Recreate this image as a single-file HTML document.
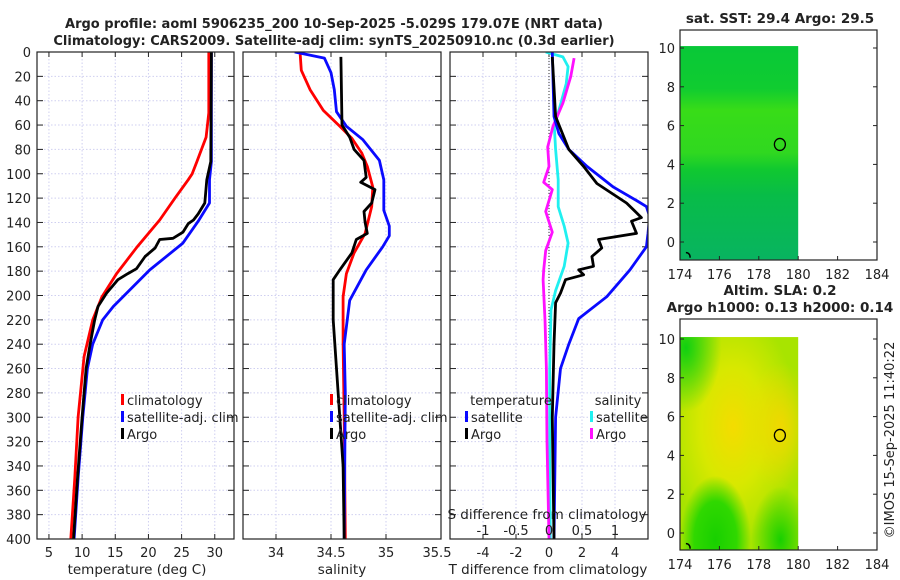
<!DOCTYPE html>
<html><head><meta charset="utf-8"><style>
body{margin:0;background:#fff}
svg{display:block;font-family:"DejaVu Sans","Liberation Sans",sans-serif}
</style></head><body>
<svg id="chart" width="900" height="580" viewBox="0 0 900 580">
<defs>
<clipPath id="c1"><rect x="37" y="52" width="197" height="487"/></clipPath>
<clipPath id="c2"><rect x="243" y="52" width="198" height="487"/></clipPath>
<clipPath id="c3"><rect x="450" y="52" width="198" height="487"/></clipPath>
<linearGradient id="sstg" x1="0" y1="0" x2="0" y2="1">
<stop offset="0" stop-color="#08c838"/><stop offset="0.2" stop-color="#10cc30"/>
<stop offset="0.3" stop-color="#38dc18"/><stop offset="0.5" stop-color="#30d820"/>
<stop offset="0.58" stop-color="#10c830"/><stop offset="0.7" stop-color="#08bc48"/>
<stop offset="1" stop-color="#08b460"/></linearGradient>
<radialGradient id="slay1" cx="0.45" cy="0.42" r="0.55"><stop offset="0" stop-color="#f4dc00"/><stop offset="0.5" stop-color="#d8e800"/><stop offset="1" stop-color="#d8e800" stop-opacity="0"/></radialGradient>
<radialGradient id="slay2" cx="0.85" cy="0.42" r="0.3"><stop offset="0" stop-color="#f0d800"/><stop offset="1" stop-color="#f0d800" stop-opacity="0"/></radialGradient>
<radialGradient id="slag1" cx="0.3" cy="0.95" r="0.3"><stop offset="0" stop-color="#18d000"/><stop offset="0.6" stop-color="#30d800"/><stop offset="1" stop-color="#30d800" stop-opacity="0"/></radialGradient>
<radialGradient id="slag2" cx="0.85" cy="0.95" r="0.25"><stop offset="0" stop-color="#18d000"/><stop offset="1" stop-color="#18d000" stop-opacity="0"/></radialGradient>
<radialGradient id="slag3" cx="0.05" cy="0.05" r="0.3"><stop offset="0" stop-color="#10d010"/><stop offset="1" stop-color="#10d010" stop-opacity="0"/></radialGradient>
</defs>
<g id="root"></g>
</svg>
<script>
// ---- data ----
const climTDepth=[0,50,70,80,90,100,105,120,138,160,182,201,220,250,300,350,400];
const climT=[29.1,29.1,28.7,28.0,27.3,26.6,26.0,24.0,21.7,18.3,15.2,13.0,11.6,10.3,9.4,8.9,8.3];
const satTDepth=[0,90,105,124,139,157,179,209,220,240,260,300,350,400];
const satT=[29.5,29.5,29.2,29.2,27.5,25.2,20.2,14.7,13.1,11.6,10.8,10.1,9.4,8.8];
const argoTDepth=[0,90,100,105,124,133,138,141,148,153,154,161,168,178,182,187,198,209,220,240,260,300,350,400];
const argoT=[29.5,29.4,29.0,28.8,28.5,27.5,26.8,26.0,25.2,23.7,21.7,21.0,19.5,18.2,16.9,15.4,13.7,12.4,11.9,11.2,10.6,10.0,9.3,8.7];
const climSDepth=[2,15,31,48,61,71,83,94,111,127,149,165,182,201,240,300,400];
const climS=[34.22,34.23,34.31,34.43,34.58,34.69,34.78,34.83,34.88,34.87,34.81,34.71,34.64,34.61,34.61,34.62,34.63];
const satSDepth=[0,5,17,31,49,61,72,89,105,130,143,151,160,179,204,240,280,400];
const satS=[34.17,34.44,34.50,34.53,34.55,34.64,34.79,34.94,34.98,34.98,35.03,35.03,34.97,34.82,34.67,34.62,34.63,34.62];
const argoSDepth=[4,60,70,80,89,103,107,113,124,131,140,149,154,165,179,187,201,220,260,300,340,400];
const argoS=[34.59,34.60,34.67,34.71,34.80,34.82,34.77,34.90,34.87,34.80,34.81,34.83,34.73,34.69,34.58,34.52,34.52,34.52,34.55,34.58,34.61,34.62];
const satTdDepth=[0,53,67,80,94,111,122,127,135,149,160,179,201,219,240,260,300,400];
const satTd=[0.2,0.3,0.6,1.2,2.3,3.9,5.3,5.9,6.1,6.0,5.9,4.9,3.5,1.8,1.2,0.7,0.4,0.3];
const argoTdDepth=[4,53,80,94,108,124,132,136,139,149,154,161,168,176,179,183,187,198,206,240,300,400];
const argoTd=[0.2,0.4,1.2,2.1,2.9,4.7,5.3,5.6,5.0,5.3,3.0,3.2,2.6,2.7,1.8,2.1,1.0,0.7,0.4,0.3,0.2,0.3];
const satSdDepth=[0,4,12,26,42,61,80,105,127,143,157,176,196,212,260,330,400];
const satSd=[-0.05,0.21,0.29,0.26,0.18,0.08,0.10,0.14,0.14,0.23,0.29,0.23,0.10,0.03,0.01,0.01,0.02];
const argoSdDepth=[5,20,42,61,78,94,107,113,131,148,163,179,187,220,260,320,400];
const argoSd=[0.38,0.33,0.21,0.06,-0.02,0.0,-0.08,0.05,-0.05,0.05,-0.05,-0.08,-0.09,-0.06,-0.04,-0.03,0.0];
const depthTicks=[0,20,40,60,80,100,120,140,160,180,200,220,240,260,280,300,320,340,360,380,400];
const tTicks=[5,10,15,20,25,30];
const sTicks=[34,34.5,35,35.5];
const tdTicks=[-4,-2,0,2,4];
const sdTicks=[-1,-0.5,0,0.5,1];
const lonTicks=[174,176,178,180,182,184];
const latTicks=[0,2,4,6,8,10];
const argoLon=179.07, argoLat=5.03;

// ---- helpers ----
const NS='http://www.w3.org/2000/svg';
const root=document.getElementById('root');
function mk(tag,attrs,parent){const e=document.createElementNS(NS,tag);for(const k in attrs)e.setAttribute(k,attrs[k]);(parent||root).appendChild(e);return e;}
function txt(x,y,s,size,anchor,weight,parent){const t=mk('text',{x:x,y:y,'font-size':size,'text-anchor':anchor||'middle','font-weight':weight||'normal',fill:'#222'},parent);t.textContent=s;return t;}
const y0=52,y1=539;
const yD=d=>y0+(d/400)*(y1-y0);
const xT=v=>37+(v-3.2)/(32.9-3.2)*197;
const xS=v=>243+(v-33.7)/(35.5-33.7)*198;
const xTd=v=>450+(v+6)/12*198;
const xSd=v=>450+(v+1.5)/3*198;

function panel(x0,x1,name,xticks,xf,gridx){
  const g=mk('g',{});
  
  
  depthTicks.forEach(d=>{if(d>0&&d<400)mk('line',{x1:x0,x2:x1,y1:yD(d),y2:yD(d),stroke:'#cfcff0','stroke-width':1,'stroke-dasharray':'1.5,2'},g);});
  gridx.forEach(v=>{mk('line',{x1:xf(v),x2:xf(v),y1:y0,y2:y1,stroke:'#cfcff0','stroke-width':1,'stroke-dasharray':'1.5,2'},g);});
  depthTicks.forEach(d=>{
    mk('line',{x1:x0,x2:x0+6,y1:yD(d),y2:yD(d),stroke:'#222'},g);
    mk('line',{x1:x1-6,x2:x1,y1:yD(d),y2:yD(d),stroke:'#222'},g);
  });
  xticks.forEach(v=>{mk('line',{x1:xf(v),x2:xf(v),y1:y1,y2:y1-5,stroke:'#222'},g);mk('line',{x1:xf(v),x2:xf(v),y1:y0,y2:y0+5,stroke:'#222'},g);});
  return g;
}
function line(depths,vals,xf,color,clip,name,w){
  const pts=vals.map((v,i)=>xf(v).toFixed(1)+','+yD(depths[i]).toFixed(1)).join(' ');
  const p=mk('polyline',{points:pts,fill:'none',stroke:color,'stroke-width':w||2.8,'stroke-linejoin':'round','clip-path':'url(#'+clip+')'});
  
  
  return p;
}
function frame(x0,x1,name){const r=mk('rect',{x:x0,y:y0,width:x1-x0,height:y1-y0,fill:'none',stroke:'#222','stroke-width':1.2});}
function legendItem(x,y,color,label,name){
  const g=mk('g',{});
  
  
  mk('rect',{x:x,y:y-11,width:3,height:11,fill:color},g);
  txt(x+6,y,label,13,'start','normal',g);
}

// titles
const t1=txt(334,28,'Argo profile: aoml 5906235_200 10-Sep-2025 -5.029S 179.07E (NRT data)',13,'middle','bold');

const t2=txt(334,45,'Climatology: CARS2009. Satellite-adj clim: synTS_20250910.nc (0.3d earlier)',13,'middle','bold');


// panel 1 temperature
panel(37,234,'temperature-panel',tTicks,xT,tTicks);
line(climTDepth,climT,xT,'#ff0000','c1','climatology-temperature-line');
line(satTDepth,satT,xT,'#0a0aff','c1','satellite-temperature-line');
line(argoTDepth,argoT,xT,'#000','c1','argo-temperature-line');
frame(37,234,'temperature-axes-frame');
depthTicks.forEach(d=>{const t=txt(31,yD(d)+5,String(d),13,'end');});
tTicks.forEach(v=>{const t=txt(xT(v),557,String(v),13);});
const xl1=txt(137,574,'temperature (deg C)',13.5);

// panel 2 salinity
panel(243,441,'salinity-panel',sTicks,xS,[34,34.5,35]);
line(climSDepth,climS,xS,'#ff0000','c2','climatology-salinity-line');
line(satSDepth,satS,xS,'#0a0aff','c2','satellite-salinity-line');
line(argoSDepth,argoS,xS,'#000','c2','argo-salinity-line');
frame(243,441,'salinity-axes-frame');
sTicks.forEach(v=>{const t=txt(xS(v)-(v===35.5?4:0),557,String(v),13);});
const xl2=txt(342,574,'salinity',13.5);

// panel 3 differences
panel(450,648,'difference-panel',tdTicks,xTd,tdTicks);
const zl=mk('line',{x1:xTd(0),x2:xTd(0),y1:y0,y2:y1,stroke:'#333','stroke-width':1,'stroke-dasharray':'1,2'});

line(satSdDepth,satSd,xSd,'#20f0f0','c3','satellite-salinity-difference-line');
line(argoSdDepth,argoSd,xSd,'#ff10ff','c3','argo-salinity-difference-line');
line(satTdDepth,satTd,xTd,'#0a0aff','c3','satellite-temperature-difference-line');
line(argoTdDepth,argoTd,xTd,'#000','c3','argo-temperature-difference-line');
frame(450,648,'difference-axes-frame');
tdTicks.forEach(v=>{const t=txt(xTd(v),557,String(v),13);});
const xl3=txt(548,574,'T difference from climatology',13.5);
const sdt=txt(547,519,'S difference from climatology',13.5);
sdTicks.forEach(v=>{const t=txt(xSd(v),535,String(v),13);});

// legends
legendItem(121,405,'#ff0000','climatology','legend-climatology');
legendItem(121,422,'#0a0aff','satellite-adj. clim','legend-satellite-adj-clim');
legendItem(121,439,'#000','Argo','legend-argo');
legendItem(330,405,'#ff0000','climatology','legend-climatology-salinity');
legendItem(330,422,'#0a0aff','satellite-adj. clim','legend-satellite-adj-clim-salinity');
legendItem(330,439,'#000','Argo','legend-argo-salinity');
const lt=txt(511,405,'temperature',13);
const ls=txt(618,405,'salinity',13);
legendItem(465,422,'#0a0aff','satellite','legend-temperature-satellite');
legendItem(465,439,'#000','Argo','legend-temperature-argo');
legendItem(590,422,'#20f0f0','satellite','legend-salinity-satellite');
legendItem(590,439,'#ff10ff','Argo','legend-salinity-argo');

// maps
function map(top,bottom,y10,yz,name,fillFn,titleLines){
  const g=mk('g',{});
  
  
  const xL=v=>680+(v-174)/10*197;
  const yL=v=>yz+(v)*(y10-yz)/10;
  fillFn(g,xL(174),yL(10.1),xL(180)-xL(174),yL(-0.9)-yL(10.1));
  mk('ellipse',{cx:xL(argoLon),cy:yL(argoLat),rx:5.5,ry:6,fill:'none',stroke:'#000','stroke-width':1.3},g);
  mk('path',{d:`M${xL(174.3)} ${yL(-0.55)} a4 4 0 0 1 4 5`,fill:'none',stroke:'#000','stroke-width':1.5},g);
  mk('rect',{x:680,y:top,width:197,height:bottom-top,fill:'none',stroke:'#222','stroke-width':1.2},g);
  lonTicks.forEach(v=>{mk('line',{x1:xL(v),x2:xL(v),y1:bottom,y2:bottom-4,stroke:'#222'},g);txt(xL(v),bottom+19,String(v),13,'middle','normal',g);});
  latTicks.forEach(v=>{mk('line',{x1:680,x2:684,y1:yL(v),y2:yL(v),stroke:'#222'},g);mk('line',{x1:873,x2:877,y1:yL(v),y2:yL(v),stroke:'#222'},g);txt(675,yL(v)+5,String(v),13,'end','normal',g);});
  titleLines.forEach((s,i)=>txt(780,top-(titleLines.length-1-i)*17-7,s,13.5,'middle','bold',g));
}
map(30,260,48,242,'sst-map',(g,x,y,w,h)=>{mk('rect',{x:x,y:y,width:w,height:h,fill:'url(#sstg)'},g);},['sat. SST: 29.4 Argo: 29.5']);
map(319,550,339,533,'sla-map',(g,x,y,w,h)=>{
  mk('rect',{x:x,y:y,width:w,height:h,fill:'#a8e400'},g);
  mk('rect',{x:x,y:y,width:w,height:h,fill:'url(#slay1)'},g);
  mk('rect',{x:x,y:y,width:w,height:h,fill:'url(#slay2)'},g);
  mk('rect',{x:x,y:y,width:w,height:h,fill:'url(#slag1)'},g);
  mk('rect',{x:x,y:y,width:w,height:h,fill:'url(#slag2)'},g);
  mk('rect',{x:x,y:y,width:w,height:h,fill:'url(#slag3)'},g);
},['Altim. SLA: 0.2','Argo h1000: 0.13 h2000: 0.14']);

const cr=txt(0,0,'©IMOS 15-Sep-2025 11:40:22',13,'middle');
cr.setAttribute('transform','translate(894,440) rotate(-90)');


</script>
</body></html>
